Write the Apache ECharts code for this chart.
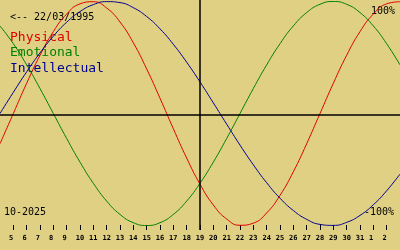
<!DOCTYPE html>
<html>
<head>
<meta charset="utf-8">
<script src="https://cdn.jsdelivr.net/npm/echarts@6/dist/echarts.min.js"></script>
<style>
html,body{margin:0;padding:0;background:#e0d084;}
#c{width:400px;height:250px;}
</style>
</head>
<body>
<div id="c"></div>
<script>
// Day tick labels (4 Oct .. 3 Nov 2025)
var dayLabels = ['4','5','6','7','8','9','10','11','12','13','14','15','16','17','18','19','20','21','22','23','24','25','26','27','28','29','30','31','1','2','3'];
var todayLabel = '19';
var birthText = '<-- 22/03/1995';
var monthText = '10-2025';
var seriesNames = ['Physical', 'Emotional', 'Intellectual'];
var physical = [-0.270,0,0.270,0.520,0.731,0.888,0.979,0.998,0.942,0.817,0.631,0.398,0.136,-0.136,-0.398,-0.631,-0.817,-0.942,-0.998,-0.979,-0.888,-0.731,-0.520,-0.270,0,0.270,0.520,0.731,0.888,0.979,0.998];
var emotional = [0.782,0.623,0.434,0.223,0,-0.223,-0.434,-0.623,-0.782,-0.901,-0.975,-1,-0.975,-0.901,-0.782,-0.623,-0.434,-0.223,0,0.223,0.434,0.623,0.782,0.901,0.975,1,0.975,0.901,0.782,0.623,0.434];
var intellectual = [0,0.189,0.372,0.541,0.690,0.815,0.910,0.972,0.999,0.990,0.945,0.866,0.756,0.618,0.458,0.282,0.095,-0.095,-0.282,-0.458,-0.618,-0.756,-0.866,-0.945,-0.990,-0.999,-0.972,-0.910,-0.815,-0.690,-0.541];

var colors = ['#e00000', '#008000', '#000090'];
var mono = '"DejaVu Sans Mono", "Liberation Mono", monospace';

var chart = echarts.init(document.getElementById('c'), null, {renderer: 'canvas'});
var lastIdx = dayLabels.length - 1;
chart.setOption({
  backgroundColor: '#e0d084',
  animation: false,
  grid: {left: 0, right: 0, top: 0, bottom: 20},
  xAxis: {
    type: 'category',
    data: dayLabels,
    boundaryGap: false,
    axisLine: {show: false, onZero: false},
    axisTick: {
      show: true, inside: true, length: 5,
      interval: function (i) { return i > 0 && i < lastIdx; },
      lineStyle: {color: '#000', width: 1}
    },
    axisLabel: {
      interval: function (i) { return i > 0 && i < lastIdx; },
      margin: 5,
      color: '#000',
      fontFamily: mono,
      fontWeight: 'bold',
      fontSize: 7,
      formatter: function (v) { return v.length === 1 ? v + ' ' : v; }
    },
    splitLine: {show: false}
  },
  yAxis: {
    type: 'value',
    min: -1.0402,
    max: 1.0134,
    show: false
  },
  series: [
    {
      name: seriesNames[0], type: 'line', data: physical, smooth: true, symbol: 'none',
      lineStyle: {color: colors[0], width: 1}, z: 3,
      markLine: {
        silent: true, symbol: 'none', label: {show: false},
        lineStyle: {color: '#000', width: 1.5, type: 'solid'},
        data: [{xAxis: todayLabel}, {yAxis: -0.0134}]
      }
    },
    {name: seriesNames[1], type: 'line', data: emotional, smooth: true, symbol: 'none', lineStyle: {color: colors[1], width: 1}, z: 3},
    {name: seriesNames[2], type: 'line', data: intellectual, smooth: true, symbol: 'none', lineStyle: {color: colors[2], width: 1}, z: 3}
  ],
  graphic: [
    {type: 'text', left: 10, top: 12, style: {text: birthText, font: '10px ' + mono, fill: '#000'}},
    {type: 'text', left: 10, top: 31, style: {text: seriesNames[0], font: '13px ' + mono, fill: colors[0]}},
    {type: 'text', left: 10, top: 46.5, style: {text: seriesNames[1], font: '13px ' + mono, fill: colors[1]}},
    {type: 'text', left: 10, top: 62, style: {text: seriesNames[2], font: '13px ' + mono, fill: colors[2]}},
    {type: 'text', left: 4, top: 207.5, style: {text: monthText, font: '10px ' + mono, fill: '#000'}},
    {type: 'text', right: 5, top: 6.5, style: {text: '100%', font: '10px ' + mono, fill: '#000'}},
    {type: 'text', right: 6, top: 207.5, style: {text: '-100%', font: '10px ' + mono, fill: '#000'}}
  ]
});
</script>
</body>
</html>
